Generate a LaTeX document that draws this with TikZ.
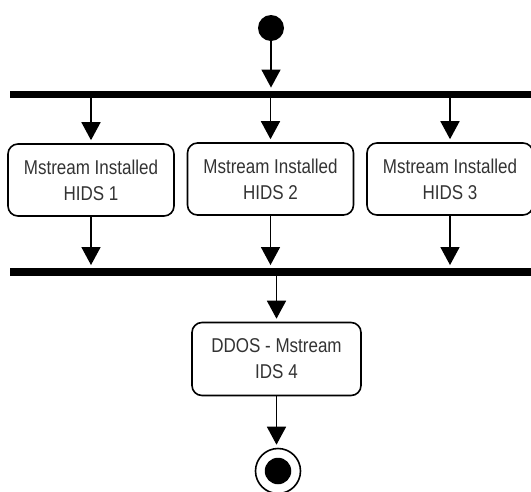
\documentclass[tikz,border=0pt]{standalone}
\usepackage{fontspec}
\setmainfont[FakeStretch=0.85]{Liberation Sans}
\usepackage{xcolor}
\usetikzlibrary{arrows.meta}

\begin{document}
\begin{tikzpicture}[
    x=1pt, y=-1pt,
    action/.style={rectangle, rounded corners=10pt, draw, line width=1.6pt, minimum width=166pt, minimum height=72pt, align=center, text=black!80, font=\fontsize{20}{26}\selectfont},
    bar/.style={rectangle, fill=black, inner sep=0pt, minimum width=522pt, minimum height=7.5pt},
    arrow/.style={-{Triangle[width=19pt,length=18pt]}, line width=1.6pt, shorten >=3pt}
]
\useasboundingbox (0,0) rectangle (531,491);

\node[circle, fill=black, inner sep=0pt, minimum size=26pt] (start) at (271,28) {};
\node[bar] (fork) at (271,94.5) {};

\node[action] (b1) at (91,180) {Mstream Installed\\HIDS 1};
\node[action] (b2) at (270.5,179) {Mstream Installed\\HIDS 2};
\node[action] (b3) at (450,179) {Mstream Installed\\HIDS 3};

\node[bar] (join) at (271,272) {};

\node[action, minimum width=169pt, minimum height=73pt] (b4) at (276.5,359) {DDOS - Mstream\\IDS 4};

\node[circle, draw, line width=1.6pt, inner sep=0pt, minimum size=45pt] (stop) at (278,471) {};
\node[circle, fill=black, inner sep=0pt, minimum size=26.5pt] (stopdot) at (stop) {};

\draw[arrow] (start) -- (start |- fork.north);
\draw[arrow] (fork.south -| b1.north) -- (b1);
\draw[arrow] (fork.south -| b2.north) -- (b2);
\draw[arrow] (fork.south -| b3.north) -- (b3);
\draw[arrow] (b1) -- (b1 |- join.north);
\draw[arrow] (b2) -- (b2 |- join.north);
\draw[arrow] (b3) -- (b3 |- join.north);
\draw[arrow] (join.south -| b4.north) -- (b4);
\draw[arrow] (b4) -- (b4 |- stop.north);
\end{tikzpicture}
\end{document}
